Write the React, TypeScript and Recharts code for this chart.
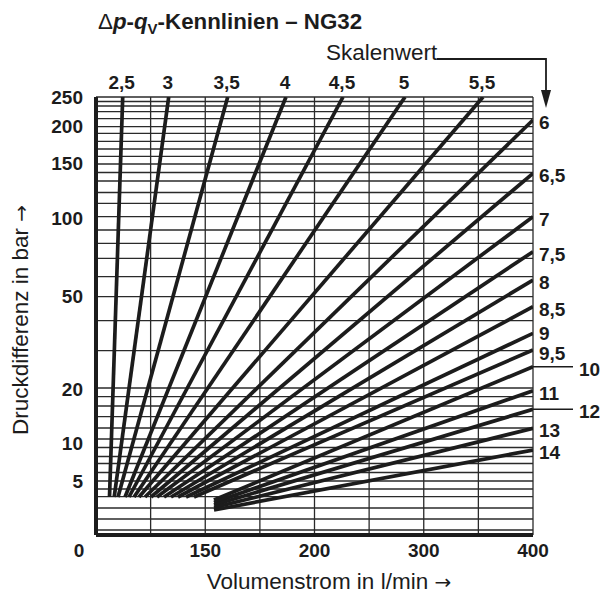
import React from "react";
import { LineChart, Line, XAxis, YAxis, ReferenceLine } from "recharts";

// Kennlinien: Skalenwert, Anfangs- und Endpunkt (q in Rastereinheiten, p in Skaleneinheiten)
const scaleLabels = ["2,5", "3", "3,5", "4", "4,5", "5", "5,5", "6", "6,5", "7", "7,5", "8", "8,5", "9", "9,5", "10", "11", "12", "13", "14"];
const startQ = [0.247, 0.333, 0.403, 0.531, 0.604, 0.696, 0.787, 0.897, 1.007, 1.117, 1.245, 1.373, 1.501, 1.648, 1.794, 2.16, 2.16, 2.16, 2.16, 2.16];
const startP = [38, 38, 38, 38, 38, 38, 38, 38, 38, 38, 38, 38, 38, 38, 38, 35, 32.5, 30, 27.5, 25];
const endQ = [0.489, 1.331, 2.411, 3.478, 4.522, 5.657, 7.085, 8, 8, 8, 8, 8, 8, 8, 8, 8, 8, 8, 8, 8];
const endP = [438, 438, 438, 438, 438, 438, 438, 415, 361.7, 318.3, 283.3, 255, 228.3, 201.7, 185, 168.3, 144.3, 125.7, 106.7, 85];
// Labels mit Hinweislinie
const leaderLabels = ["10", "12"];

const xTickPos = [0, 2, 4, 6, 8];
const xTickLabels = ["0", "150", "200", "300", "400"];
const yTickPos = [438, 409, 372.5, 317.5, 239.5, 146, 92.5, 54];
const yTickLabels = ["250", "200", "150", "100", "50", "20", "10", "5"];

const gridRows = [433.5, 429, 423.3, 416.3, 408.3, 401.7, 393.7, 386, 378.7, 371, 362.5, 354, 342.5, 331.7, 318.3, 305, 291.7, 276.7, 258.3, 238.3, 214.3, 184.3, 147, 138.3, 129, 118.3, 107, 96, 87.5, 78.5, 71.5, 62.5, 54, 46, 38.3, 27, 16, 5, 438];
const gridCols = [1, 2, 3, 4, 5, 6, 7, 8];

const FONT = "'Liberation Sans', Arial, Helvetica, sans-serif";
const ARROW_FONT = "'DejaVu Sans', sans-serif";
const INK = "#1c1c1c";

const YTick = (props: any) => {
  const { x, y, payload } = props;
  const i = yTickPos.indexOf(payload.value);
  return (
    <text x={x - 13} y={y + 7} textAnchor="end" fontFamily={FONT} fontWeight="bold" fontSize={19} fill={INK}>
      {i >= 0 ? yTickLabels[i] : ""}
    </text>
  );
};

const XTick = (props: any) => {
  const { x, y, payload } = props;
  const i = xTickPos.indexOf(payload.value);
  const dx = payload.value === 0 ? -17 : 0;
  return (
    <text x={x + dx} y={y + 22} textAnchor="middle" fontFamily={FONT} fontWeight="bold" fontSize={19} fill={INK}>
      {i >= 0 ? xTickLabels[i] : ""}
    </text>
  );
};

const endLabel = (name: string, top: boolean) => (props: any) => {
  const { x, y, index } = props;
  if (index !== 1) return <g />;
  if (top) {
    return (
      <text x={x - 1} y={y - 8} textAnchor="middle" fontFamily={FONT} fontWeight="bold" fontSize={19} fill={INK}>
        {name}
      </text>
    );
  }
  if (leaderLabels.includes(name)) {
    return (
      <g>
        <line x1={x} y1={y} x2={x + 40} y2={y} stroke={INK} strokeWidth={1.5} />
        <text x={x + 46} y={y + 9} fontFamily={FONT} fontWeight="bold" fontSize={19} fill={INK}>
          {name}
        </text>
      </g>
    );
  }
  const lift = name === "9" ? -2 : name === "9,5" ? 1 : 0;
  return (
    <text x={x + 6} y={y + 9 + lift} fontFamily={FONT} fontWeight="bold" fontSize={19} fill={INK}>
      {name}
    </text>
  );
};

export default function App() {
  const W = 600;
  const H = 595;
  return (
    <div style={{ position: "relative", width: W, height: H, fontFamily: FONT }}>
      <style>{"body{margin:0}"}</style>
      <LineChart width={W} height={H} margin={{ top: 97, right: 67, bottom: 30, left: 56 }}>
        <XAxis
          type="number"
          dataKey="q"
          domain={[0, 8]}
          ticks={xTickPos}
          interval={0}
          height={30}
          tickSize={0}
          tickMargin={0}
          tick={<XTick />}
          axisLine={{ stroke: INK, strokeWidth: 4 }}
          allowDataOverflow
        />
        <YAxis
          type="number"
          domain={[0, 438]}
          ticks={yTickPos}
          interval={0}
          width={40}
          tickSize={0}
          tickMargin={0}
          tick={<YTick />}
          axisLine={{ stroke: INK, strokeWidth: 4 }}
          allowDataOverflow
        />
        {gridRows.map((v) => (
          <ReferenceLine key={"r" + v} y={v} stroke="#2a2a2a" strokeWidth={1.3} />
        ))}
        {gridCols.map((v) => (
          <ReferenceLine key={"c" + v} x={v} stroke="#2a2a2a" strokeWidth={1.3} />
        ))}
        {scaleLabels.map((name, i) => (
          <Line
            key={name}
            data={[
              { q: startQ[i], p: startP[i] },
              { q: endQ[i], p: endP[i] },
            ]}
            dataKey="p"
            type="linear"
            stroke={INK}
            strokeWidth={3.7}
            dot={false}
            activeDot={false}
            isAnimationActive={false}
            label={endLabel(name, endP[i] >= 438)}
          />
        ))}
      </LineChart>
      <svg width={W} height={H} style={{ position: "absolute", left: 0, top: 0, pointerEvents: "none" }}>
        <text x={98} y={29} fontFamily={FONT} fontWeight="bold" fontSize={22.3} fill={INK}>
          <tspan fontWeight="normal">Δ</tspan>
          <tspan fontStyle="italic">p</tspan>-<tspan fontStyle="italic">q</tspan>
          <tspan fontSize={15} dy={5}>V</tspan>
          <tspan dy={-5}>-Kennlinien – NG32</tspan>
        </text>
        <text x={326} y={60} fontFamily={FONT} fontSize={22.5} fill={INK}>
          Skalenwert
        </text>
        <polyline points="437,59 546,59 546,92" fill="none" stroke={INK} strokeWidth={1.8} />
        <polygon points="541,90 551,90 546,108" fill={INK} />
        <text x={329} y={589} textAnchor="middle" fontFamily={FONT} fontSize={22.5} fill={INK}>
          Volumenstrom in l/min <tspan fontFamily={ARROW_FONT} fontSize={20}>→</tspan>
        </text>
        <text x={28} y={320} textAnchor="middle" transform="rotate(-90 28 320)" fontFamily={FONT} fontSize={22.5} fill={INK}>
          Druckdifferenz in bar <tspan fontFamily={ARROW_FONT} fontSize={20}>→</tspan>
        </text>
      </svg>
    </div>
  );
}
